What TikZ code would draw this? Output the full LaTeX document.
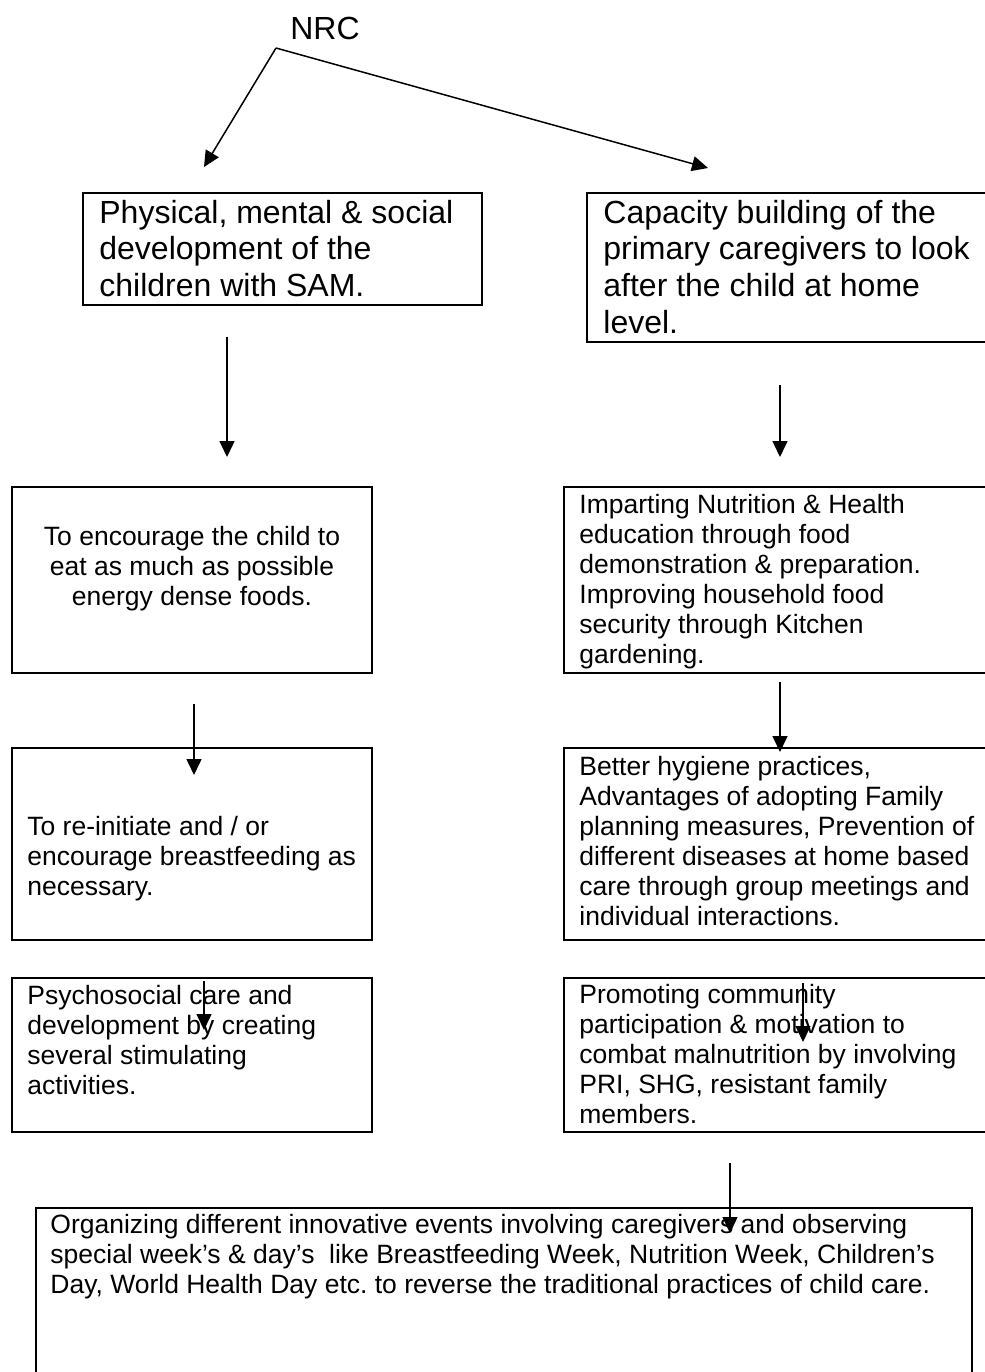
\documentclass[tikz,border=0pt]{standalone}
\usepackage{fontspec}
\setmainfont{Liberation Sans}
\usetikzlibrary{arrows.meta,fit}
\tikzset{
  box/.style={draw, line width=1.1pt, inner sep=0pt},
  arr/.style={-{Triangle[length=8pt,width=7.5pt]}, line width=0.75pt},
  big/.style={font=\fontsize{16pt}{18.35pt}\selectfont, inner sep=0pt, anchor=base west},
  small/.style={font=\fontsize{13.25pt}{15pt}\selectfont, inner sep=0pt, anchor=base west},
}
\frenchspacing
\begin{document}
\frenchspacing
\begin{tikzpicture}[x=0.5pt,y=-0.5pt]
\useasboundingbox (0,0) rectangle (985,1372);
\clip (0,0) rectangle (985,1372);
\fill[white] (0,0) rectangle (985,1372);

% title
\node[font=\fontsize{16pt}{18.35pt}\selectfont, inner sep=0pt, anchor=base] (nrc) at (325,39) {NRC};

% boxes
\node[box, fit={(83,193) (482,305)}] (b1) {};
\node[box, fit={(587,193) (995,342)}] (b2) {};
\node[box, fit={(12,487) (372,673)}] (b3) {};
\node[box, fit={(564,487) (995,673)}] (b4) {};
\node[box, fit={(12,748) (372,940)}] (b5) {};
\node[box, fit={(564,748) (995,940)}] (b6) {};
\node[box, fit={(12,978) (372,1132)}] (b7) {};
\node[box, fit={(564,978) (995,1132)}] (b8) {};
\node[box, fit={(36,1208) (972,1395)}] (b9) {};

% texts
\node[big] (t1) at (99,223) {\parbox[t]{300pt}{\raggedright Physical, mental \& social\\development of the\\children with SAM.}};
\node[big] (t2) at (603,223) {\parbox[t]{300pt}{\raggedright Capacity building of the\\primary caregivers to look\\after the child at home\\level.}};
\node[small, anchor=base] (t3) at (192,545) {\parbox[t]{170pt}{\centering To encourage the child to\\eat as much as possible\\energy dense foods.}};
\node[small] (t4) at (579,513) {\parbox[t]{300pt}{\raggedright Imparting Nutrition \& Health\\education through food\\demonstration \& preparation.\\Improving household food\\security through Kitchen\\gardening.}};
\node[small] (t5) at (27,835) {\parbox[t]{300pt}{\raggedright To re-initiate and / or\\encourage breastfeeding as\\necessary.}};
\node[small] (t6) at (579,775) {\parbox[t]{300pt}{\raggedright Better hygiene practices,\\Advantages of adopting Family\\planning measures, Prevention of\\different diseases at home based\\care through group meetings and\\individual interactions.}};
\node[small] (t7) at (27,1004) {\parbox[t]{300pt}{\raggedright Psychosocial care and\\development by creating\\several stimulating\\activities.}};
\node[small] (t8) at (579,1003) {\parbox[t]{300pt}{\raggedright Promoting community\\participation \& motivation to\\combat malnutrition by involving\\PRI, SHG, resistant family\\members.}};
\node[small] (t9) at (50,1233) {\parbox[t]{480pt}{\raggedright Organizing different innovative events involving caregivers and observing\\special week’s \& day’s\ \ like Breastfeeding Week, Nutrition Week, Children’s\\Day, World Health Day etc. to reverse the traditional practices of child care.}};

% connector end points
\coordinate (n0) at (276,48);
\coordinate (n1) at (204,167);
\coordinate (n2) at (708,168);
\coordinate (a1s) at (227,337);  \coordinate (a1e) at (227,457);
\coordinate (a2s) at (780,385);  \coordinate (a2e) at (780,457);
\coordinate (a3s) at (194,704);  \coordinate (a3e) at (194,775);
\coordinate (a4s) at (780,682);  \coordinate (a4e) at (780,752);
\coordinate (a5s) at (204,981);  \coordinate (a5e) at (204,1030);
\coordinate (a6s) at (803,983);  \coordinate (a6e) at (803,1042);
\coordinate (a7s) at (730,1163); \coordinate (a7e) at (730,1233);

% connectors
\draw[arr] (n0) -- (n1);
\draw[arr] (n0) -- (n2);
\draw[arr] (a1s) -- (a1e);
\draw[arr] (a2s) -- (a2e);
\draw[arr] (a3s) -- (a3e);
\draw[arr] (a4s) -- (a4e);
\draw[arr] (a5s) -- (a5e);
\draw[arr] (a6s) -- (a6e);
\draw[arr] (a7s) -- (a7e);
\end{tikzpicture}
\end{document}
